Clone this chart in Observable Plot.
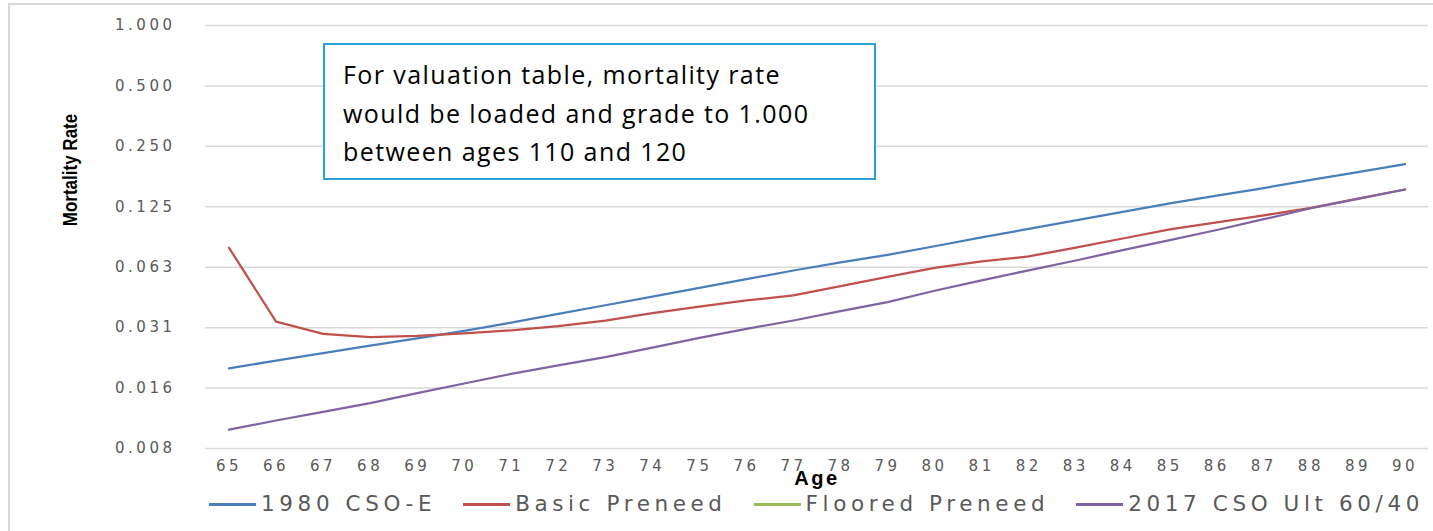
<!DOCTYPE html>
<html>
<head>
<meta charset="utf-8">
<script src="https://cdn.jsdelivr.net/npm/d3@7"></script>
<script src="https://cdn.jsdelivr.net/npm/@observablehq/plot@0.6"></script>
<style>
  html, body { margin: 0; padding: 0; background: #fff; }
  #wrap { position: relative; width: 1433px; height: 531px; overflow: hidden; background: #fff; }
  #frame { position: absolute; left: 8px; top: 3px; width: 1500px; height: 600px; border-left: 2px solid #d9d9d9; border-top: 2px solid #d9d9d9; box-sizing: border-box; }
  #chart { position: absolute; left: 0; top: 0; }
  #chart svg text { letter-spacing: 3.5px; }
  #chart g[aria-label="x-axis label"] text { font-family: "Liberation Sans", Arial, sans-serif; font-weight: bold; font-size: 20px; fill: #000; letter-spacing: 2.5px; }
  #ylabel { position: absolute; left: 70px; top: 170px; width: 0; height: 0; }
  #ylabel span { position: absolute; left: 0; top: 0; white-space: nowrap; transform: translate(-50%, -50%) rotate(-90deg) scaleX(0.85); font-family: "Liberation Sans", Arial, sans-serif; font-weight: bold; font-size: 20px; color: #000; }
  #note { position: absolute; left: 323px; top: 43px; width: 553px; height: 137px; box-sizing: border-box; border: 2px solid #2a9fd8; background: #fff; padding: 10px 0 0 18px; font-family: "Open Sans", Lato, sans-serif; font-size: 25px; letter-spacing: 1.4px; line-height: 38.7px; color: #000; white-space: nowrap; }
  #legend { position: absolute; left: 205px; top: 491px; width: 1223px; display: flex; justify-content: center; gap: 27px; font-family: "DejaVu Sans", sans-serif; font-size: 21.5px; letter-spacing: 4.6px; color: #595959; line-height: 26px; white-space: nowrap; }
  .item { display: flex; align-items: center; }
  .sw { display: inline-block; width: 47px; height: 3px; margin-right: 5px; }
</style>
</head>
<body>
<div id="wrap">
  <div id="frame"></div>
  <div id="chart"></div>
  <div id="ylabel"><span>Mortality Rate</span></div>
  <div id="note">For valuation table, mortality rate<br>would be loaded and grade to 1.000<br>between ages 110 and 120</div>
  <div id="legend"></div>
</div>
<script>
// Ages on the x axis
const ages = [65, 66, 67, 68, 69, 70, 71, 72, 73, 74, 75, 76, 77, 78, 79, 80, 81, 82, 83, 84, 85, 86, 87, 88, 89, 90];

// Series values (mortality rate)
const cso1980E = [0.0196, 0.0214, 0.0233, 0.0254, 0.0276, 0.0301, 0.0331, 0.0366, 0.0404, 0.0446, 0.0493, 0.0545, 0.0602, 0.0660, 0.0720, 0.0795, 0.0880, 0.0970, 0.1070, 0.1180, 0.1300, 0.1420, 0.1550, 0.1700, 0.1860, 0.2038];
const basicPreneed = [0.0781, 0.0335, 0.0291, 0.0280, 0.0284, 0.0293, 0.0303, 0.0318, 0.0339, 0.0369, 0.0398, 0.0427, 0.0452, 0.0503, 0.0559, 0.0621, 0.0668, 0.0707, 0.0783, 0.0869, 0.0964, 0.1044, 0.1134, 0.1234, 0.1374, 0.1524];
const flooredPreneed = []; // no visible line in the picture
const cso2017Ult6040 = [0.00969, 0.01077, 0.0119, 0.01314, 0.01473, 0.01647, 0.0184, 0.02026, 0.02229, 0.02484, 0.02782, 0.03084, 0.03392, 0.03775, 0.04188, 0.0477, 0.0538, 0.0603, 0.0675, 0.0760, 0.0853, 0.0958, 0.1084, 0.1229, 0.1368, 0.1524];

const seriesNames = ["1980 CSO-E", "Basic Preneed", "Floored Preneed", "2017 CSO Ult 60/40"];
const seriesValues = [cso1980E, basicPreneed, flooredPreneed, cso2017Ult6040];
const seriesColors = ["#4a7ebb", "#c0504d", "#9bbb59", "#8064a2"];

// Y ticks (log base 2) and their labels
const yTicks = [0.0078125, 0.015625, 0.03125, 0.0625, 0.125, 0.25, 0.5, 1];
const yTickLabels = ["0.008", "0.016", "0.031", "0.063", "0.125", "0.250", "0.500", "1.000"];
const yLabelMap = new Map(yTicks.map((t, i) => [t, yTickLabels[i]]));

const rows = [];
seriesNames.forEach((name, s) => {
  ages.forEach((age, i) => {
    const v = seriesValues[s][i];
    if (v != null) rows.push({series: name, age, value: v});
  });
});

const chart = Plot.plot({
  width: 1433,
  height: 490,
  marginLeft: 205,
  marginRight: 5,
  marginTop: 25,
  marginBottom: 42,
  style: {fontFamily: "DejaVu Sans, sans-serif", fontSize: "15px", color: "#595959", background: "transparent", overflow: "visible"},
  x: {type: "linear", domain: [ages[0] - 0.5, ages[ages.length - 1] + 0.5]},
  y: {type: "log", base: 2, domain: [yTicks[0], yTicks[yTicks.length - 1]]},
  color: {domain: seriesNames, range: seriesColors},
  marks: [
    Plot.gridY(yTicks, {stroke: "#d9d9d9", strokeOpacity: 1, strokeWidth: 1.5}),
    Plot.axisY(yTicks, {tickSize: 0, tickPadding: 30, tickFormat: d => yLabelMap.get(d), fill: "#595959", label: null}),
    Plot.axisX(ages, {tickSize: 0, tickPadding: 12, tickFormat: d => String(d), fill: "#595959",
      label: "Age", labelAnchor: "center", labelArrow: "none", labelOffset: 36}),
    Plot.lineY(rows, {x: "age", y: "value", z: "series", stroke: "series", strokeWidth: 2.25, strokeLinejoin: "round"})
  ]
});
document.getElementById("chart").appendChild(chart);

const legend = document.getElementById("legend");
seriesNames.forEach((name, i) => {
  const item = document.createElement("div");
  item.className = "item";
  const sw = document.createElement("span");
  sw.className = "sw";
  sw.style.background = seriesColors[i];
  const tx = document.createElement("span");
  tx.textContent = name;
  item.appendChild(sw);
  item.appendChild(tx);
  legend.appendChild(item);
});
</script>
</body>
</html>
